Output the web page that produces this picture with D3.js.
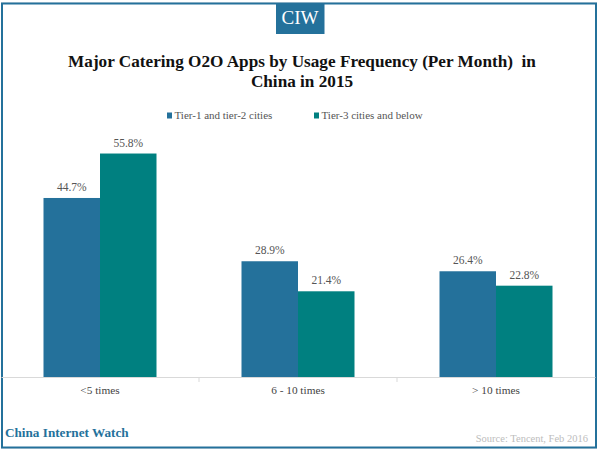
<!DOCTYPE html>
<html>
<head>
<meta charset="utf-8">
<script src="https://cdn.jsdelivr.net/npm/d3@7"></script>
<style>
  html, body { margin: 0; padding: 0; background: #fff; }
  svg { display: block; }
  text { font-family: "Liberation Serif", serif; }
  .title { white-space: pre; }
</style>
</head>
<body>
<svg id="chart" width="600" height="450"></svg>
<script>
// Chart data
const categories = ["<5 times", "6 - 10 times", "> 10 times"];
const seriesNames = ["Tier-1 and tier-2 cities", "Tier-3 cities and below"];
const tier12Values = [44.7, 28.9, 26.4];
const tier3Values = [55.8, 21.4, 22.8];
const titleLines = ["Major Catering O2O Apps by Usage Frequency (Per Month)  in", "China in 2015"];

const blue = "#24719b";
const teal = "#008080";

const svg = d3.select("#chart");

// Frame around the picture
svg.append("rect")
    .attr("x", 1.5).attr("y", 3)
    .attr("width", 595).attr("height", 445)
    .attr("fill", "none")
    .attr("stroke", "#d5d5d5")
    .attr("stroke-width", 1);
svg.append("rect")
    .attr("x", 2).attr("y", 3.5)
    .attr("width", 594).attr("height", 444)
    .attr("fill", "none")
    .attr("stroke", blue)
    .attr("stroke-width", 2);

// CIW badge
svg.append("rect")
    .attr("x", 276).attr("y", 3)
    .attr("width", 48.5).attr("height", 31)
    .attr("fill", blue);
svg.append("text")
    .attr("x", 300).attr("y", 24)
    .attr("text-anchor", "middle")
    .attr("fill", "#fff")
    .attr("font-size", 19)
    .text("CIW");

// Title
svg.selectAll(".title")
    .data(titleLines)
    .join("text")
    .attr("class", "title")
    .attr("x", 302)
    .attr("y", (d, i) => 67 + i * 20)
    .attr("text-anchor", "middle")
    .attr("fill", "#111")
    .attr("font-size", 17.2)
    .attr("font-weight", "bold")
    .text(d => d);

// Scales
const x = d3.scaleBand().domain(categories).range([1, 595]);
const y = d3.scaleLinear().domain([0, 60]).range([377, 136.7]);
const barWidth = 56.5;

// Bars and labels for both series
[tier12Values, tier3Values].forEach((values, s) => {
    const barX = (d, i) => x(categories[i]) + x.bandwidth() / 2 + (s === 0 ? -barWidth : 0);

    svg.selectAll(".bar" + s)
        .data(values)
        .join("rect")
        .attr("class", "bar" + s)
        .attr("x", barX)
        .attr("y", d => y(d))
        .attr("width", barWidth)
        .attr("height", d => y(0) - y(d))
        .attr("fill", s === 0 ? blue : teal);

    svg.selectAll(".label" + s)
        .data(values)
        .join("text")
        .attr("class", "label" + s)
        .attr("x", (d, i) => barX(d, i) + barWidth / 2)
        .attr("y", d => y(d) - 7)
        .attr("text-anchor", "middle")
        .attr("fill", "#555")
        .attr("font-size", 11.5)
        .text(d => d.toFixed(1) + "%");
});

// Category axis
const xAxis = svg.append("g")
    .attr("transform", "translate(0,377)")
    .call(d3.axisBottom(x).tickSize(0).tickPadding(9));
xAxis.select(".domain").attr("stroke", "#d9d9d9");
xAxis.selectAll("text")
    .attr("fill", "#444")
    .attr("font-size", 11.3)
    .attr("font-family", "Liberation Serif");
xAxis.selectAll(".sep")
    .data(x.domain().slice(1))
    .join("line")
    .attr("class", "sep")
    .attr("x1", d => x(d)).attr("x2", d => x(d))
    .attr("y1", 0).attr("y2", 5)
    .attr("stroke", "#d9d9d9");

// Legend
const legendX = [167, 314];
seriesNames.forEach((name, i) => {
    svg.append("rect")
        .attr("x", legendX[i]).attr("y", 112.5)
        .attr("width", 5).attr("height", 6)
        .attr("fill", i === 0 ? blue : teal);
    svg.append("text")
        .attr("x", legendX[i] + 7.5).attr("y", 119)
        .attr("fill", "#555")
        .attr("font-size", 11)
        .text(name);
});

// Footer
svg.append("text")
    .attr("x", 5).attr("y", 437)
    .attr("fill", blue)
    .attr("font-size", 13.2)
    .attr("font-weight", "bold")
    .text("China Internet Watch");
svg.append("text")
    .attr("x", 588).attr("y", 441.5)
    .attr("text-anchor", "end")
    .attr("fill", "#bdbdbd")
    .attr("font-size", 10.5)
    .text("Source: Tencent, Feb 2016");
</script>
</body>
</html>
